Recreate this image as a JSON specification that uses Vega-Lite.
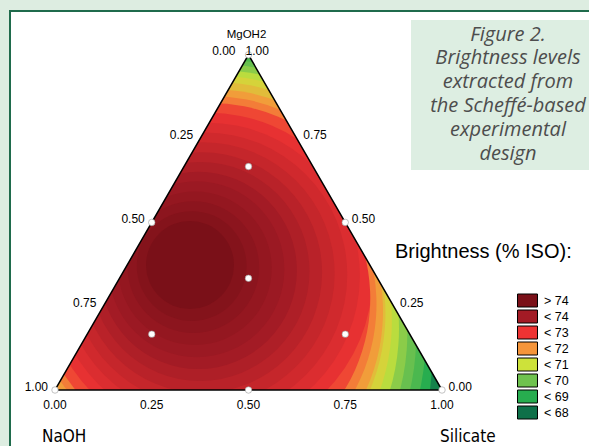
{
  "$schema": "https://vega.github.io/schema/vega-lite/v6.json",
  "width": 582,
  "height": 438,
  "autosize": {"type": "none"},
  "padding": {"left": 10, "top": 11, "right": 0, "bottom": 0},
  "background": "#ddede1",
  "view": {"fill": "white", "stroke": null},
  "config": {"text": {"font": "Liberation Sans", "color": "black"}},
  "datasets": {
    "contours": [
      {"NaOH": 0.4322, "Silicate": 0.2694, "MgOH2": 0.2984, "radius": 0.8269, "brightness": 67.8},
      {"NaOH": 0.4322, "Silicate": 0.2694, "MgOH2": 0.2984, "radius": 0.6245, "brightness": 68.5},
      {"NaOH": 0.4322, "Silicate": 0.2694, "MgOH2": 0.2984, "radius": 0.6057, "brightness": 69.0},
      {"NaOH": 0.4318, "Silicate": 0.2638, "MgOH2": 0.3044, "radius": 0.5917, "brightness": 69.4},
      {"NaOH": 0.4288, "Silicate": 0.2608, "MgOH2": 0.3104, "radius": 0.5734, "brightness": 69.8},
      {"NaOH": 0.4284, "Silicate": 0.2553, "MgOH2": 0.3163, "radius": 0.5532, "brightness": 70.3},
      {"NaOH": 0.4279, "Silicate": 0.2498, "MgOH2": 0.3223, "radius": 0.5336, "brightness": 70.7},
      {"NaOH": 0.4275, "Silicate": 0.2442, "MgOH2": 0.3283, "radius": 0.5124, "brightness": 71.0},
      {"NaOH": 0.4287, "Silicate": 0.2401, "MgOH2": 0.3312, "radius": 0.4904, "brightness": 71.4},
      {"NaOH": 0.4305, "Silicate": 0.2368, "MgOH2": 0.3327, "radius": 0.4705, "brightness": 71.75},
      {"NaOH": 0.4324, "Silicate": 0.2334, "MgOH2": 0.3342, "radius": 0.4522, "brightness": 72.3},
      {"NaOH": 0.4350, "Silicate": 0.2275, "MgOH2": 0.3375, "radius": 0.4240, "brightness": 72.6},
      {"NaOH": 0.4377, "Silicate": 0.2216, "MgOH2": 0.3407, "radius": 0.3958, "brightness": 72.75},
      {"NaOH": 0.4404, "Silicate": 0.2157, "MgOH2": 0.3439, "radius": 0.3676, "brightness": 72.9},
      {"NaOH": 0.4432, "Silicate": 0.2097, "MgOH2": 0.3471, "radius": 0.3394, "brightness": 73.05},
      {"NaOH": 0.4458, "Silicate": 0.2038, "MgOH2": 0.3504, "radius": 0.3112, "brightness": 73.2},
      {"NaOH": 0.4485, "Silicate": 0.1979, "MgOH2": 0.3536, "radius": 0.2829, "brightness": 73.35},
      {"NaOH": 0.4512, "Silicate": 0.1920, "MgOH2": 0.3568, "radius": 0.2547, "brightness": 73.5},
      {"NaOH": 0.4539, "Silicate": 0.1860, "MgOH2": 0.3601, "radius": 0.2265, "brightness": 73.65},
      {"NaOH": 0.4566, "Silicate": 0.1801, "MgOH2": 0.3633, "radius": 0.1983, "brightness": 73.8},
      {"NaOH": 0.4593, "Silicate": 0.1742, "MgOH2": 0.3665, "radius": 0.1701, "brightness": 73.95},
      {"NaOH": 0.4619, "Silicate": 0.1683, "MgOH2": 0.3698, "radius": 0.1419, "brightness": 74.1},
      {"NaOH": 0.4647, "Silicate": 0.1623, "MgOH2": 0.3730, "radius": 0.1137, "brightness": 74.3}
    ],
    "lowside": [
      {"NaOH": 0.50118, "Silicate": 0.22608, "MgOH2": 0.27274, "radius": 0.45220, "brightness": 71.75},
      {"NaOH": 0.51149, "Silicate": 0.23242, "MgOH2": 0.25609, "radius": 0.47028, "brightness": 71.4},
      {"NaOH": 0.52614, "Silicate": 0.23937, "MgOH2": 0.23449, "radius": 0.49096, "brightness": 71.0},
      {"NaOH": 0.54339, "Silicate": 0.22782, "MgOH2": 0.22879, "radius": 0.51163, "brightness": 70.7},
      {"NaOH": 0.55882, "Silicate": 0.23530, "MgOH2": 0.20588, "radius": 0.53230, "brightness": 70.3},
      {"NaOH": 0.57254, "Silicate": 0.24438, "MgOH2": 0.18308, "radius": 0.55297, "brightness": 69.8},
      {"NaOH": 0.57926, "Silicate": 0.25260, "MgOH2": 0.16814, "radius": 0.57364, "brightness": 69.4},
      {"NaOH": 0.58078, "Silicate": 0.26326, "MgOH2": 0.15596, "radius": 0.59173, "brightness": 69.0},
      {"NaOH": 0.57189, "Silicate": 0.27731, "MgOH2": 0.15080, "radius": 0.60465, "brightness": 68.5},
      {"NaOH": 0.60664, "Silicate": 0.30381, "MgOH2": 0.08955, "radius": 0.62532, "brightness": 67.8}
    ],
    "design": [
      {"NaOH": 1, "Silicate": 0, "MgOH2": 0},
      {"NaOH": 0, "Silicate": 1, "MgOH2": 0},
      {"NaOH": 0, "Silicate": 0, "MgOH2": 1},
      {"NaOH": 0.5, "Silicate": 0.5, "MgOH2": 0},
      {"NaOH": 0.5, "Silicate": 0, "MgOH2": 0.5},
      {"NaOH": 0, "Silicate": 0.5, "MgOH2": 0.5},
      {"NaOH": 0.3333, "Silicate": 0.3333, "MgOH2": 0.3333},
      {"NaOH": 0.6667, "Silicate": 0.1667, "MgOH2": 0.1667},
      {"NaOH": 0.1667, "Silicate": 0.6667, "MgOH2": 0.1667},
      {"NaOH": 0.1667, "Silicate": 0.1667, "MgOH2": 0.6667}
    ],
    "vertices": [
      {"NaOH": 1, "Silicate": 0, "MgOH2": 0, "k": 0},
      {"NaOH": 0, "Silicate": 1, "MgOH2": 0, "k": 1},
      {"NaOH": 0, "Silicate": 0, "MgOH2": 1, "k": 2},
      {"NaOH": 1, "Silicate": 0, "MgOH2": 0, "k": 3}
    ],
    "outside": [
      {"x": -0.3, "y": -0.3, "y2": 1.2},
      {"x": 0, "y": 0, "y2": 1.2},
      {"x": 0.5, "y": 0.8660254, "y2": 1.2},
      {"x": 1, "y": 0, "y2": 1.2},
      {"x": 1.6, "y": -0.6, "y2": 1.2}
    ],
    "ticks": [{"v": 0}, {"v": 0.25}, {"v": 0.5}, {"v": 0.75}, {"v": 1}],
    "classes": [
      {"cls": "> 74"}, {"cls": "< 74"}, {"cls": "< 73"}, {"cls": "< 72"},
      {"cls": "< 71"}, {"cls": "< 70"}, {"cls": "< 69"}, {"cls": "< 68"}
    ],
    "one": [{}]
  },
  "layer": [
    {
      "data": {"name": "contours"},
      "transform": [
        {"calculate": "datum.Silicate + datum.MgOH2 / 2", "as": "cx"},
        {"calculate": "datum.MgOH2 * 0.8660254", "as": "cy"}
      ],
      "mark": {"type": "circle", "clip": true, "opacity": 1},
      "encoding": {
        "x": {"field": "cx", "type": "quantitative", "scale": {"domain": [-0.11628, 1.3876], "nice": false, "zero": false}, "axis": null},
        "y": {"field": "cy", "type": "quantitative", "scale": {"domain": [-0.15245, 0.97933], "nice": false, "zero": false}, "axis": null},
        "size": {"field": "radius", "type": "quantitative", "scale": {"type": "pow", "exponent": 2, "domain": [0, 1], "range": [0, 599076]}, "legend": null},
        "fill": {"field": "brightness", "type": "quantitative", "legend": null,
          "scale": {"type": "linear", "interpolate": "rgb",
            "domain": [67.5, 68.5, 69.5, 70.5, 71.5, 72.5, 73.5, 74.3],
            "range": ["#0e7049", "#27ad4f", "#6fc24f", "#cde23a", "#f5953a", "#ee3333", "#a31b25", "#7a1018"]}},
        "order": {"field": "radius", "sort": "descending"}
      }
    },
    {
      "data": {"name": "lowside"},
      "transform": [
        {"calculate": "datum.Silicate + datum.MgOH2 / 2", "as": "cx"},
        {"calculate": "datum.MgOH2 * 0.8660254", "as": "cy"},
        {"calculate": "1.6", "as": "reach"}
      ],
      "mark": {"type": "arc", "clip": true, "opacity": 1, "theta": 1.30, "theta2": 3.1416},
      "encoding": {
        "x": {"field": "cx", "type": "quantitative"},
        "y": {"field": "cy", "type": "quantitative"},
        "radius": {"field": "reach", "type": "quantitative", "stack": null, "scale": {"type": "linear", "domain": [0, 1], "range": [0, 387], "zero": true}},
        "radius2": {"field": "radius"},
        "fill": {"field": "brightness", "type": "quantitative", "legend": null}
      }
    },
    {
      "data": {"name": "outside"},
      "mark": {"type": "area", "clip": true, "color": "white", "opacity": 1},
      "encoding": {
        "x": {"field": "x", "type": "quantitative"},
        "y": {"field": "y", "type": "quantitative", "stack": null},
        "y2": {"field": "y2"}
      }
    },
    {
      "data": {"name": "one"},
      "mark": {"type": "rect", "clip": true, "color": "white"},
      "encoding": {
        "x": {"datum": -0.3, "type": "quantitative"},
        "x2": {"datum": 1.6},
        "y": {"datum": 0, "type": "quantitative"},
        "y2": {"datum": -0.6}
      }
    },
    {
      "data": {"name": "vertices"},
      "transform": [
        {"calculate": "datum.Silicate + datum.MgOH2 / 2", "as": "cx"},
        {"calculate": "datum.MgOH2 * 0.8660254", "as": "cy"}
      ],
      "mark": {"type": "line", "color": "black", "strokeWidth": 1.5, "strokeJoin": "miter", "strokeCap": "square"},
      "encoding": {
        "x": {"field": "cx", "type": "quantitative"},
        "y": {"field": "cy", "type": "quantitative"},
        "order": {"field": "k"}
      }
    },
    {
      "data": {"name": "design"},
      "transform": [
        {"calculate": "datum.Silicate + datum.MgOH2 / 2", "as": "cx"},
        {"calculate": "datum.MgOH2 * 0.8660254", "as": "cy"}
      ],
      "mark": {"type": "circle", "fill": "white", "opacity": 1, "stroke": "#9a9a9a", "strokeWidth": 0.6, "size": 42},
      "encoding": {
        "x": {"field": "cx", "type": "quantitative"},
        "y": {"field": "cy", "type": "quantitative"}
      }
    },
    {
      "data": {"name": "ticks"},
      "mark": {"type": "text", "align": "center", "baseline": "middle", "dy": 15, "fontSize": 12},
      "encoding": {
        "x": {"field": "v", "type": "quantitative"},
        "y": {"datum": 0, "type": "quantitative"},
        "text": {"field": "v", "type": "quantitative", "format": ".2f"}
      }
    },
    {
      "data": {"name": "ticks"},
      "transform": [
        {"filter": "datum.v > 0"},
        {"calculate": "(1 - datum.v) / 2", "as": "lx"},
        {"calculate": "(1 - datum.v) * 0.8660254", "as": "ly"}
      ],
      "mark": {"type": "text", "align": "right", "baseline": "middle", "dx": -7, "dy": -3.5, "fontSize": 12},
      "encoding": {
        "x": {"field": "lx", "type": "quantitative"},
        "y": {"field": "ly", "type": "quantitative"},
        "text": {"field": "v", "type": "quantitative", "format": ".2f"}
      }
    },
    {
      "data": {"name": "ticks"},
      "transform": [
        {"filter": "datum.v < 1"},
        {"calculate": "1 - datum.v / 2", "as": "rx"},
        {"calculate": "datum.v * 0.8660254", "as": "ry"}
      ],
      "mark": {"type": "text", "align": "left", "baseline": "middle", "dx": 6.5, "dy": -3.5, "fontSize": 12},
      "encoding": {
        "x": {"field": "rx", "type": "quantitative"},
        "y": {"field": "ry", "type": "quantitative"},
        "text": {"field": "v", "type": "quantitative", "format": ".2f"}
      }
    },
    {
      "data": {"name": "one"},
      "mark": {"type": "text", "align": "right", "baseline": "middle", "dx": -13, "dy": -4, "fontSize": 12},
      "encoding": {
        "x": {"datum": 0.5, "type": "quantitative"},
        "y": {"datum": 0.8660254, "type": "quantitative"},
        "text": {"value": "0.00"}
      }
    },
    {
      "data": {"name": "one"},
      "mark": {"type": "text", "align": "left", "baseline": "middle", "dx": -3, "dy": -4, "fontSize": 12},
      "encoding": {
        "x": {"datum": 0.5, "type": "quantitative"},
        "y": {"datum": 0.8660254, "type": "quantitative"},
        "text": {"value": "1.00"}
      }
    },
    {
      "data": {"name": "one"},
      "mark": {"type": "text", "align": "center", "baseline": "middle", "fontSize": 11.5},
      "encoding": {
        "x": {"datum": 0.4948, "type": "quantitative"},
        "y": {"datum": 0.9173, "type": "quantitative"},
        "text": {"value": "MgOH2"}
      }
    },
    {
      "data": {"name": "one"},
      "mark": {"type": "text", "align": "left", "baseline": "middle", "fontSize": 17, "font": "Liberation Sans Narrow, Arial Narrow, DejaVu Sans Condensed, Liberation Sans"},
      "encoding": {
        "x": {"datum": -0.0336, "type": "quantitative"},
        "y": {"datum": -0.1214, "type": "quantitative"},
        "text": {"value": "NaOH"}
      }
    },
    {
      "data": {"name": "one"},
      "mark": {"type": "text", "align": "left", "baseline": "middle", "fontSize": 17, "font": "Liberation Sans Narrow, Arial Narrow, DejaVu Sans Condensed, Liberation Sans"},
      "encoding": {
        "x": {"datum": 0.9948, "type": "quantitative"},
        "y": {"datum": -0.1214, "type": "quantitative"},
        "text": {"value": "Silicate"}
      }
    },
    {
      "data": {"name": "one"},
      "mark": {"type": "text", "align": "left", "baseline": "middle", "fontSize": 20},
      "encoding": {
        "x": {"datum": 0.8786, "type": "quantitative"},
        "y": {"datum": 0.3566, "type": "quantitative"},
        "text": {"value": "Brightness (% ISO):"}
      }
    },
    {
      "data": {"name": "one"},
      "mark": {"type": "rect", "color": "#ddeee2", "clip": true},
      "encoding": {
        "x": {"datum": 0.9199, "type": "quantitative"},
        "x2": {"datum": 1.6},
        "y": {"datum": 0.9561, "type": "quantitative"},
        "y2": {"datum": 0.5685}
      }
    },
    {
      "data": {"name": "one"},
      "mark": {"type": "text", "align": "center", "baseline": "alphabetic", "fontSize": 20, "font": "Open Sans", "fontStyle": "italic", "color": "#4d4d4d", "lineHeight": 23.8},
      "encoding": {
        "x": {"datum": 1.1705, "type": "quantitative"},
        "y": {"datum": 0.9031, "type": "quantitative"},
        "text": {"value": ["Figure 2.", "Brightness levels", "extracted from", "the Scheffé-based", "experimental", "design"]}
      }
    },
    {
      "data": {"name": "classes"},
      "mark": {"type": "square", "clip": true},
      "encoding": {
        "x": {"datum": -5, "type": "quantitative"},
        "y": {"datum": -5, "type": "quantitative"},
        "color": {"field": "cls", "type": "nominal",
          "scale": {"domain": ["> 74", "< 74", "< 73", "< 72", "< 71", "< 70", "< 69", "< 68"],
            "range": ["#7a1018", "#a31b25", "#ee3333", "#f5953a", "#cde23a", "#6fc24f", "#27ad4f", "#0e7049"]},
          "legend": {"orient": "none", "legendX": 510.5, "legendY": 282.5, "title": null, "padding": 0,
            "symbolType": "M-1.538,-1H1.538V1H-1.538Z", "symbolSize": 169, "symbolOpacity": 1,
            "symbolStrokeColor": "black", "symbolStrokeWidth": 1,
            "labelFont": "Liberation Sans", "labelFontSize": 12.5, "labelColor": "black",
            "rowPadding": -2, "labelOffset": 9.5,
            "encode": {"symbols": {"update": {"stroke": {"value": "black"}, "strokeWidth": {"value": 1}, "opacity": {"value": 1}}}}}
        }
      }
    },
    {
      "data": {"name": "one"},
      "mark": {"type": "rect", "filled": false, "stroke": "#1f6b4c", "strokeWidth": 2},
      "encoding": {
        "x": {"datum": -0.11628, "type": "quantitative"},
        "x2": {"datum": 1.6},
        "y": {"datum": 0.97933, "type": "quantitative"},
        "y2": {"datum": -0.6}
      }
    }
  ]
}
